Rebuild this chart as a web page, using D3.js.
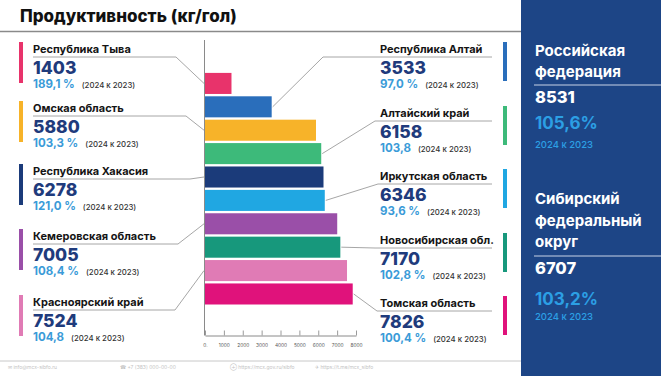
<!DOCTYPE html>
<html><head><meta charset="utf-8">
<script src="https://cdn.jsdelivr.net/npm/d3@7"></script>
<style>
html,body{margin:0;padding:0;background:#fff;}
svg{display:block;font-family:Inter,"Open Sans",sans-serif;}
</style></head>
<body><svg id="c" width="661" height="376"></svg>
<script>
// ---- data ----
const title = "Продуктивность (кг/гол)";
const regions = ["Республика Тыва","Республика Алтай","Омская область","Алтайский край","Республика Хакасия","Иркутская область","Кемеровская область","Новосибирская обл.","Красноярский край","Томская область"];
const values = [1403,3533,5880,6158,6278,6346,7005,7170,7524,7826];
const growth = ["189,1 %","97,0 %","103,3 %","103,8","121,0 %","93,6 %","108,4 %","102,8 %","104,8","100,4 %"];
const periodNote = "(2024 к 2023)";
const xTicks = [0,1000,2000,3000,4000,5000,6000,7000,8000];
const panelNames = [["Российская","федерация"],["Сибирский","федеральный","округ"]];
const panelValues = [8531,6707];
const panelGrowth = ["105,6%","103,2%"];
const panelNote = "2024 к 2023";
const footerTexts = ["✉ info@mcx-sibfo.ru","☎ +7 (383) 000-00-00","⊕ https://mcx.gov.ru/sibfo","✈ https://t.me/mcx_sibfo"];

// ---- styles / layout ----
const colors = ["#e8336b","#2a6ebb","#f7b329","#3dba7a","#1b3b7a","#20a7e2","#9a4fa8","#17987c","#e07bb5","#e0127b"];
const navy = "#1f3b7c", lblue = "#3a9bd8";
const leftBase = [53,112,175,240,306];
const rightBase = [53,117,180,244,307];
const leftElbow = [176,186,190,178,175];
const rightElbow = [323,375,378,375,377];

const svg = d3.select("#c");

// title
svg.append("text").attr("x",20).attr("y",22).attr("font-size",17).attr("font-weight",800)
  .attr("fill","#111").text(title);
svg.append("line").attr("x1",0).attr("x2",521).attr("y1",31.5).attr("y2",31.5)
  .attr("stroke","#8a8a8a").attr("stroke-width",1.5);

// scales
const x = d3.scaleLinear().domain([0,8000]).range([205,356]);
const y = d3.scaleBand().domain(regions).range([72.2,305.2]).paddingInner(0.1).paddingOuter(0.03);

// bars
svg.append("g").selectAll("rect").data(values).join("rect")
  .attr("x",x(0)).attr("y",(d,i)=>y(regions[i])).attr("height",y.bandwidth())
  .attr("width",d=>x(d)-x(0)).attr("fill",(d,i)=>colors[i]);

// axes
svg.append("line").attr("x1",204.5).attr("x2",204.5).attr("y1",40).attr("y2",335.5)
  .attr("stroke","#8a8a8a").attr("stroke-width",1);
const ax = svg.append("g").attr("transform","translate(0,335.5)")
  .call(d3.axisBottom(x).tickValues(xTicks).tickSizeInner(-5).tickSizeOuter(0).tickPadding(8)
        .tickFormat(d=>d===0?"0.":String(d)));
ax.select(".domain").attr("stroke","#8a8a8a");
ax.selectAll(".tick line").attr("stroke","#9a9a9a");
ax.selectAll("text").attr("font-size",4.8).attr("fill","#555").attr("font-family","Inter,sans-serif");

// labels
regions.forEach((name,i)=>{
  const left = i%2===0;
  const k = Math.floor(i/2);
  const L = left ? leftBase[k] : rightBase[k];
  const tx = left ? 33 : 380;
  const g = svg.append("g");
  g.append("rect").attr("x",left?19:503).attr("y",L-11).attr("width",4)
    .attr("height",left?41:39).attr("fill",colors[i]);
  const cy = y(name)+y.bandwidth()/2;
  const pts = left
    ? [[33,L+4],[leftElbow[k],L+4],[204,cy]]
    : [[492,L+4],[rightElbow[k],L+4],[x(values[i])+1,cy]];
  g.append("path").attr("d",d3.line()(pts)).attr("fill","none").attr("stroke","#9c9c9c").attr("stroke-width",0.9);
  g.append("text").attr("x",tx).attr("y",L).attr("font-size",11).attr("font-weight",700)
    .attr("fill","#151515").text(name);
  g.append("text").attr("x",tx).attr("y",L+21).attr("font-size",17.5).attr("font-weight",800)
    .attr("fill",navy).text(values[i]);
  const p = g.append("text").attr("x",tx).attr("y",L+35).attr("font-size",11.5).attr("font-weight",700)
    .attr("fill",lblue).text(growth[i]);
  const w = p.node().getComputedTextLength();
  g.append("text").attr("x",tx+w+7).attr("y",L+35).attr("font-size",7.8).attr("font-weight",500)
    .attr("fill","#333").text(periodNote);
});

// right panel
svg.append("rect").attr("x",521).attr("y",0).attr("width",140).attr("height",376).attr("fill","#1d4586");
const pBase = [[56,77],[204,226,247]];
const pLine = [85,256];
const pVal = [103,274];
const pGr = [129,305];
const pNote = [148,320];
panelNames.forEach((lines,j)=>{
  lines.forEach((t,m)=>svg.append("text").attr("x",535).attr("y",pBase[j][m]).attr("font-size",15)
    .attr("font-weight",700).attr("fill","#fff").text(t));
  svg.append("line").attr("x1",534).attr("x2",661).attr("y1",pLine[j]).attr("y2",pLine[j])
    .attr("stroke","#c9d3e6").attr("stroke-width",1);
  svg.append("text").attr("x",535).attr("y",pVal[j]).attr("font-size",16.5).attr("font-weight",800)
    .attr("fill","#fff").text(panelValues[j]);
  svg.append("text").attr("x",535).attr("y",pGr[j]).attr("font-size",17).attr("font-weight",700)
    .attr("fill","#2c9fe4").text(panelGrowth[j]);
  svg.append("text").attr("x",535).attr("y",pNote[j]).attr("font-size",9.5).attr("font-weight",500)
    .attr("fill","#2c9fe4").text(panelNote);
});

// footer
svg.append("line").attr("x1",0).attr("x2",521).attr("y1",361).attr("y2",361).attr("stroke","#c8c8c8").attr("stroke-width",1);
const fx = [8,120,230,315];
footerTexts.forEach((t,i)=>svg.append("text").attr("x",fx[i]).attr("y",369).attr("font-size",5)
  .attr("fill","#c4c4c4").text(t));
</script>
</body></html>
